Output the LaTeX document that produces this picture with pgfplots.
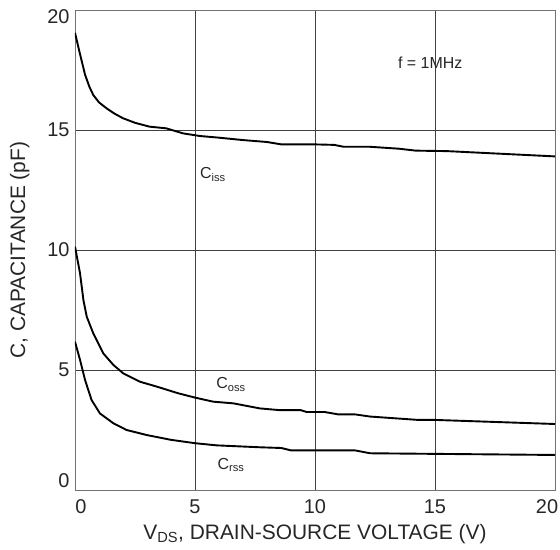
\documentclass[border=0pt]{standalone}
\usepackage{pgfplots}
\pgfplotsset{compat=1.18}
\usepackage{fontspec}
\setmainfont{Liberation Sans}
\usetikzlibrary{calc}

\tikzset{curve/.style={black, line width=1.9bp, line join=round, mark=none}}

\begin{document}
\begin{tikzpicture}
\begin{axis}[
  name=ax,
  scale only axis,
  width=480bp, height=480bp,
  xmin=0, xmax=20, ymin=0, ymax=20,
  xtick={0,5,10,15,20}, ytick={0,5,10,15,20},
  xticklabels={\hspace*{12bp}0, 5, 10, 15, 20\hspace*{16bp}},
  yticklabels={\raisebox{9bp}[\height][\depth]{0}, 5, 10, 15, \raisebox{-7bp}[\height][\depth]{20}},
  grid=major,
  major grid style={black!75, line width=0.7bp},
  axis line style={black!55, line width=0.8bp},
  major tick length=0pt,
  ticklabel style={font=\fontsize{20}{22}\selectfont, text=black!85},
  xticklabel style={yshift=-6bp},
  yticklabel style={xshift=-2bp},
  xlabel={V\textsubscript{DS}, DRAIN-SOURCE VOLTAGE (V)},
  ylabel={C, CAPACITANCE (pF)},
  label style={font=\fontsize{21}{23}\selectfont, text=black!85},
  xlabel style={yshift=-4bp},
  ylabel style={yshift=11bp},
]
% Input capacitance
\addplot[curve] coordinates {
 (0,19.05) (0.2,18.2) (0.42,17.3) (0.6,16.8) (0.76,16.46) (1.0,16.15)
 (1.32,15.9) (1.65,15.68) (2.0,15.49) (2.5,15.3) (3.1,15.14) (3.8,15.07)
 (4.5,14.86) (5.2,14.75) (6,14.68) (7,14.58) (8,14.5) (8.6,14.4)
 (10,14.4) (10.8,14.38) (11.2,14.3) (12.3,14.3) (13.5,14.22) (14.2,14.14)
 (15.5,14.12) (20,13.9)
};
% Output capacitance
\addplot[curve] coordinates {
 (0,10.14) (0.21,9.03) (0.35,7.92) (0.49,7.22) (0.76,6.53) (1.18,5.69)
 (1.6,5.21) (2.01,4.86) (2.71,4.51) (3.4,4.31) (4.3,4.03) (5,3.85)
 (5.76,3.68) (6.6,3.61) (7.7,3.4) (8.5,3.33) (9.4,3.33) (9.65,3.25)
 (10.4,3.25) (10.97,3.15) (11.67,3.15) (12.3,3.06) (14.3,2.92) (15,2.92)
 (20,2.75)
};
% Reverse transfer capacitance
\addplot[curve] coordinates {
 (0,6.18) (0.21,5.42) (0.42,4.58) (0.69,3.75) (1.04,3.19) (1.6,2.78)
 (2.15,2.5) (2.99,2.29) (4.0,2.09) (5,1.95) (5.9,1.86) (6.8,1.82)
 (7.7,1.78) (8.6,1.75) (9.0,1.65) (11.67,1.65) (12.3,1.53) (20,1.46)
};
\node[font=\fontsize{16}{18}\selectfont, text=black!85] at (axis cs:14.8,17.8) {f = 1MHz};
\node[font=\fontsize{16}{18}\selectfont, text=black!85] at (axis cs:5.75,13.15) {C\textsubscript{iss}};
\node[font=\fontsize{16}{18}\selectfont, text=black!85] at (axis cs:6.5,4.4) {C\textsubscript{oss}};
\node[font=\fontsize{16}{18}\selectfont, text=black!85] at (axis cs:6.5,1.05) {C\textsubscript{rss}};
\end{axis}
\pgfresetboundingbox
\path[use as bounding box] ($(ax.south west)+(-75bp,-60bp)$) rectangle ($(ax.north east)+(5bp,10bp)$);
\end{tikzpicture}
\end{document}
